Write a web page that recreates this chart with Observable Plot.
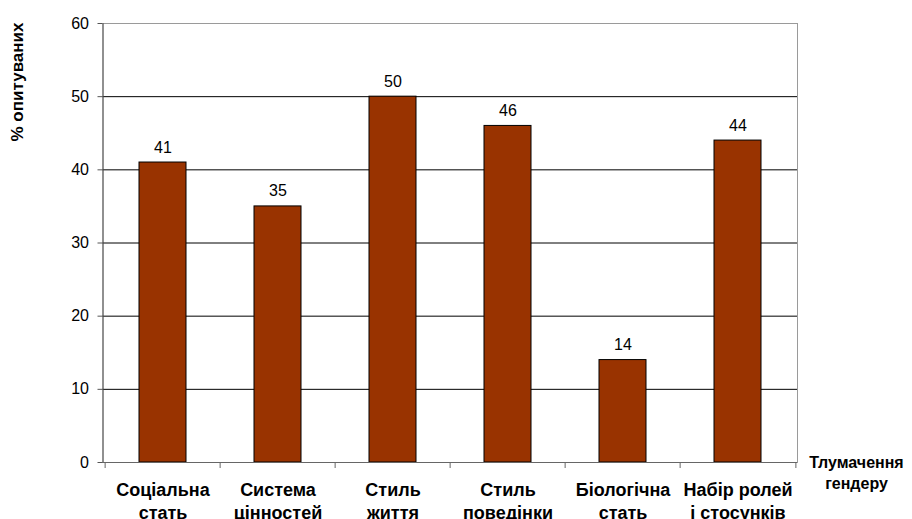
<!DOCTYPE html>
<html>
<head>
<meta charset="utf-8">
<script src="https://cdn.jsdelivr.net/npm/d3@7"></script>
<script src="https://cdn.jsdelivr.net/npm/@observablehq/plot@0.6"></script>
<style>
  html, body { margin: 0; padding: 0; background: #fff; }
</style>
</head>
<body>
<div id="chart"></div>
<script>
// Interpretations of "gender" (% of respondents)
const categories = [
  "Соціальна\nстать",
  "Система\nцінностей",
  "Стиль\nжиття",
  "Стиль\nповедінки",
  "Біологічна\nстать",
  "Набір ролей\nі стосунків"
];
const values = [41, 35, 50, 46, 14, 44];
const yTicks = [0, 10, 20, 30, 40, 50, 60];
const gridValues = [10, 20, 30, 40, 50];
const yLabel = "% опитуваних";
const xLabel = "Тлумачення\nгендеру";

const data = categories.map((c, i) => ({category: c, value: values[i]}));

const W = 912, H = 519;
const mL = 102.5, mR = 115, mT = 23, mB = 57;
const step = (W - mL - mR) / categories.length;

const chart = Plot.plot({
  width: W,
  height: H,
  marginLeft: mL,
  marginRight: mR,
  marginTop: mT,
  marginBottom: mB,
  style: {fontFamily: "'Liberation Sans', Arial, sans-serif", background: "#fff", color: "#000"},
  x: {domain: categories, paddingInner: 0.588, paddingOuter: 0.294, label: null},
  y: {domain: [0, 60], label: null},
  marks: [
    Plot.frame({stroke: "#9a9a9a"}),
    Plot.ruleY(gridValues, {stroke: "#000", strokeWidth: 1}),
    Plot.barY(data, {x: "category", y: "value", fill: "#993300", stroke: "#000", strokeWidth: 1}),
    Plot.text(data, {x: "category", y: "value", text: d => String(d.value), dy: -10, lineAnchor: "bottom", fontSize: 16}),
    Plot.frame({anchor: "left", stroke: "#555"}),
    Plot.ruleY([0], {stroke: "#666"}),
    Plot.axisY({ticks: yTicks, tickSize: 5, tickPadding: 9, fontSize: 16, stroke: "#555", label: null}),
    Plot.axisX({tickSize: 0, tickPadding: 18, fontSize: 18, fontWeight: "bold", lineHeight: 1.25, label: null}),
    Plot.axisX({text: null, tickSize: 6, dx: -step / 2, stroke: "#666", label: null}),
    Plot.axisX({ticks: [categories[categories.length - 1]], text: null, tickSize: 6, dx: step / 2, stroke: "#666", label: null}),
    Plot.text([xLabel], {text: d => d, frameAnchor: "bottom-right", dx: 59, dy: -10, lineAnchor: "top", textAnchor: "middle", fontWeight: "bold", fontSize: 16, lineHeight: 1.35}),
    Plot.text([yLabel], {text: d => d, frameAnchor: "top-left", dx: -85.5, dy: -1, rotate: -90, textAnchor: "end", lineAnchor: "middle", fontWeight: "bold", fontSize: 17})
  ]
});

document.getElementById("chart").appendChild(chart);
</script>
</body>
</html>
